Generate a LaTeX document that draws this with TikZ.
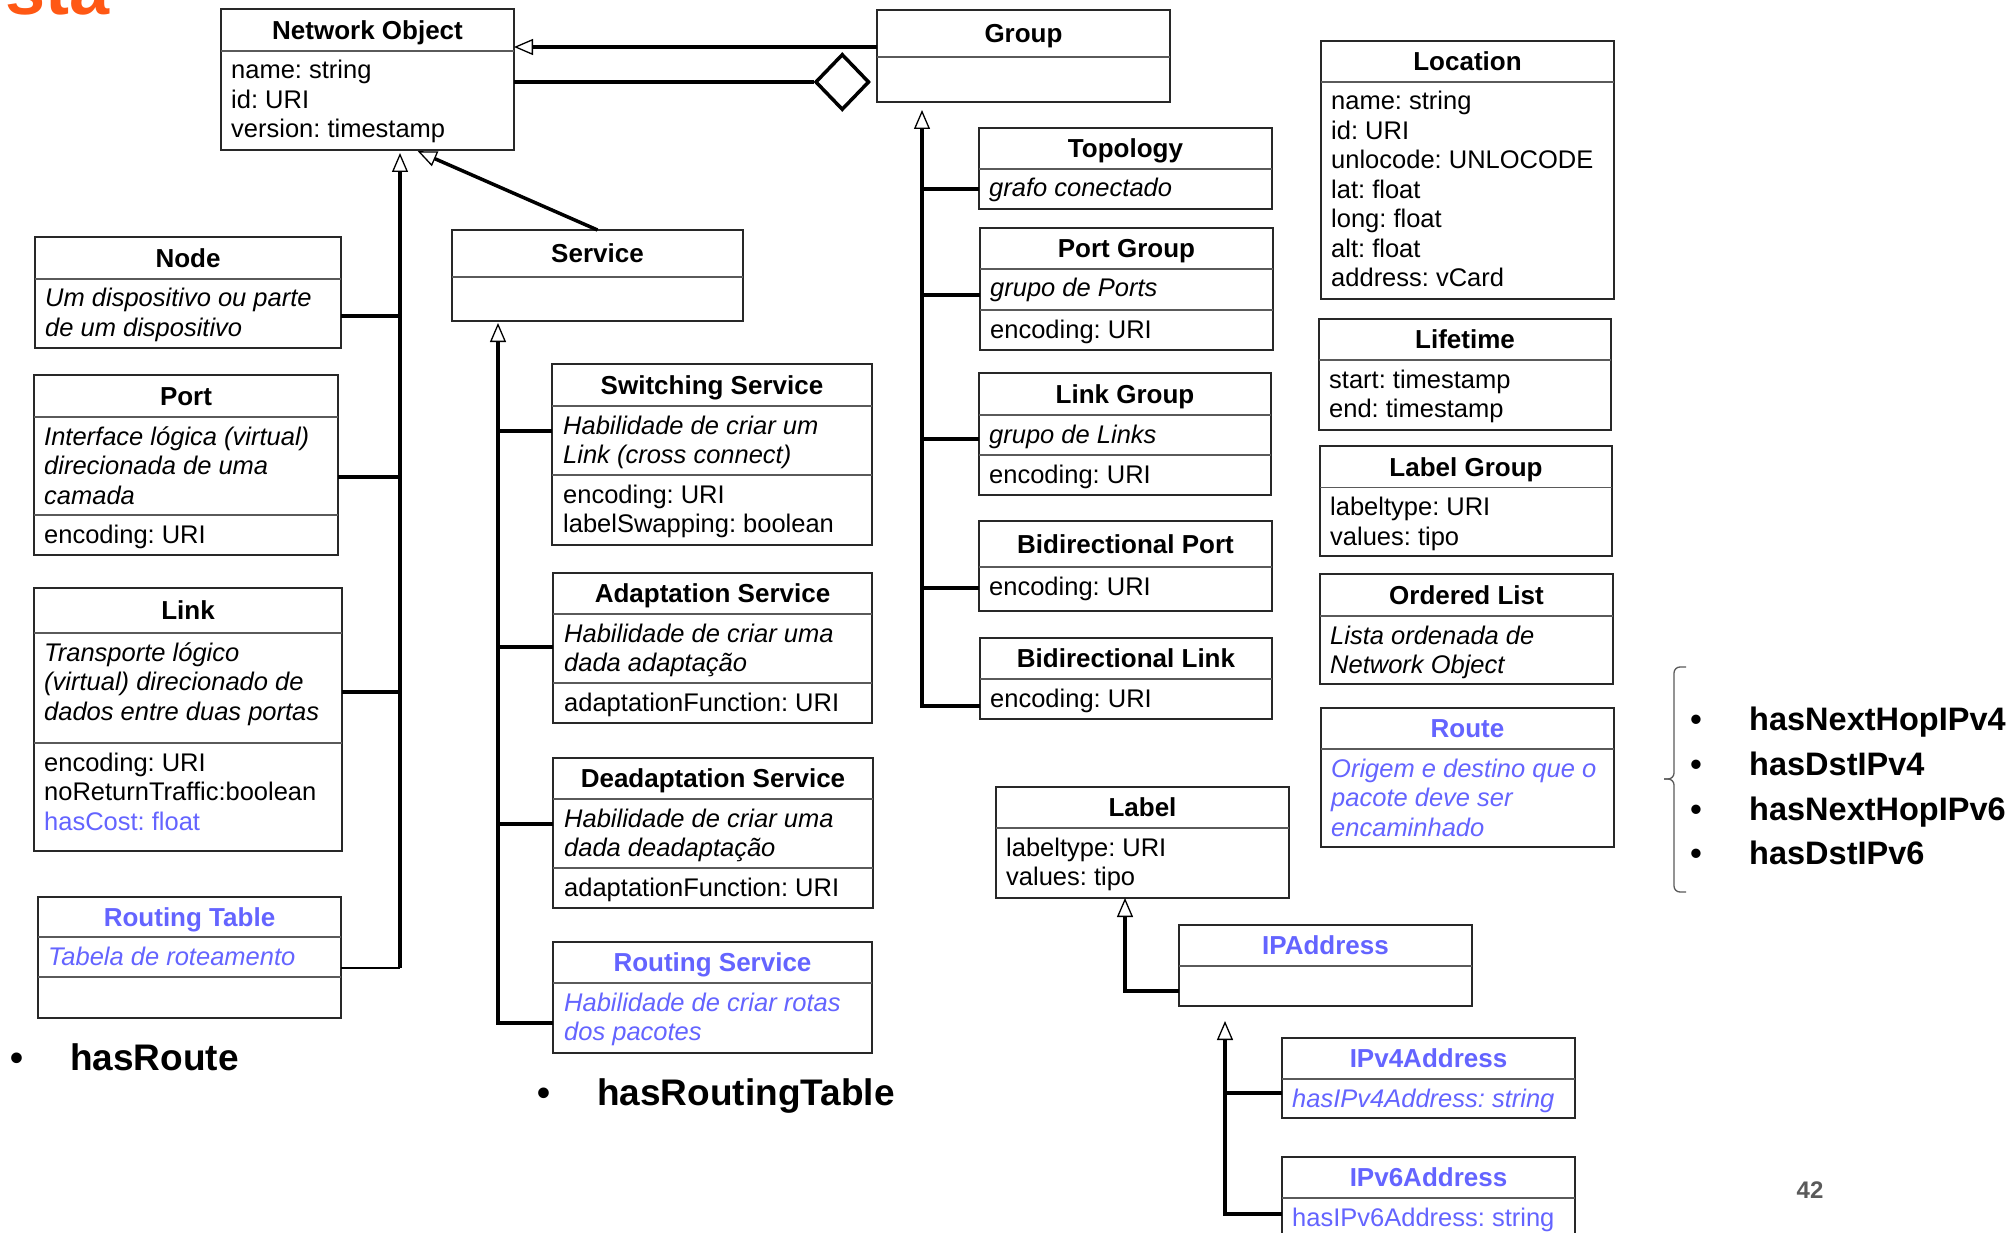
\documentclass[tikz,border=0pt]{standalone}
\usepackage{fontspec}
\setmainfont{Liberation Sans}
\usetikzlibrary{arrows.meta,shapes.geometric}
\frenchspacing

\definecolor{ublue}{RGB}{100,100,255}
\definecolor{uorange}{RGB}{255,88,20}
\definecolor{bordergray}{RGB}{40,40,40}
\definecolor{sepgray}{RGB}{90,90,90}
\definecolor{pagegray}{RGB}{90,90,90}

\tikzset{
  umlbox/.style={draw=bordergray, line width=1.6pt, fill=white, inner sep=0pt, outer sep=0pt},
  sepline/.style={draw=sepgray, line width=1.6pt},
  ttl/.style={font=\fontsize{26}{30}\selectfont\bfseries, anchor=base, inner sep=0pt},
  txt/.style={font=\fontsize{25.5}{29.5}\selectfont, inner sep=0pt},
  itx/.style={font=\fontsize{25.5}{29.5}\selectfont\itshape},
  bluetxt/.style={text=ublue},
  conn/.style={draw=black, line width=3.5pt},
  thinconn/.style={draw=black, line width=1.6pt},
  gen/.style={-{Triangle[open, length=19pt, width=16pt, line width=1.3pt]}},
  aggd/.style={diamond, draw=black, fill=white, line width=3.5pt,
    minimum width=54pt, minimum height=56pt, inner sep=0pt},
  bigtxt/.style={font=\fontsize{37}{44}\selectfont\bfseries, inner sep=0pt},
  listtxt/.style={font=\fontsize{32.5}{40}\selectfont\bfseries, inner sep=0pt},
}

% class box: name, x1, y1, x2, y2, title separator y, title, title style
\newcommand\umlclass[8]{%
  \node[umlbox, minimum width={#4-#2}, minimum height={#5-#3}] (#1)
    at ({(#2+#4)/2},{(#3+#5)/2}) {};
  \draw[sepline] (#1.west |- 0,#6) -- (#1.east |- 0,#6);
  \node[ttl,#8] (#1-title) at ({(#2+#4)/2},{(#3+#6)/2+9.3}) {#7};
}
% extra compartment separator: box name, y
\newcommand\umlsep[2]{\draw[sepline] (#1.west |- 0,#2) -- (#1.east |- 0,#2);}
% compartment text: prefix, left x, separator y above, style, lines
\newcommand\umltext[5]{%
  \foreach \mytxt [count=\myi] in {#5} {
    \node[txt,#4,anchor=base west] (#1-\myi) at (#2,{#3+28+(\myi-1)*29.5}) {\mytxt};
  }
}

\begin{document}
\begin{tikzpicture}[x=1pt,y=-1pt]
\useasboundingbox (0,0) rectangle (2016,1233);
\fill[white] (0,0) rectangle (2016,1233);
\clip (0,0) rectangle (2016,1233);

% slide title remnant
\node[font=\fontsize{72}{80}\selectfont\bfseries, text=uorange, anchor=base east, inner sep=0pt]
  (slidetitle) at (110,15) {sta};

% ---------- top classes ----------
\umlclass{no}{221}{9}{514}{150}{51}{Network Object}{}
\umltext{no-a}{231}{51}{}{name: string, id: URI, version: timestamp}

\umlclass{grp}{877}{10}{1170}{102}{57}{Group}{}

% ---------- left column ----------
\umlclass{nd}{35}{237}{341}{348}{279}{Node}{}
\umltext{nd-a}{45}{279}{itx}{Um dispositivo ou parte, de um dispositivo}

\umlclass{port}{34}{375}{338}{555}{417}{Port}{}
\umlsep{port}{515}
\umltext{port-a}{44}{417}{itx}{Interface lógica (virtual), direcionada de uma, camada}
\umltext{port-b}{44}{515}{}{encoding: URI}

\umlclass{link}{34}{588}{342}{851}{633}{Link}{}
\umlsep{link}{743}
\umltext{link-a}{44}{633}{itx}{Transporte lógico, {(virtual) direcionado de}, dados entre duas portas}
\umltext{link-b}{44}{743}{}{encoding: URI, noReturnTraffic:boolean}
\node[txt,bluetxt,anchor=base west] (link-c) at (44,830) {hasCost: float};

\umlclass{rt}{38}{897}{341}{1018}{937}{Routing Table}{bluetxt}
\umlsep{rt}{977}
\umltext{rt-a}{48}{937}{itx,bluetxt}{Tabela de roteamento}

% ---------- services ----------
\umlclass{svc}{452}{230}{743}{321}{277}{Service}{}

\umlclass{sw}{552}{364}{872}{545}{406}{Switching Service}{}
\umlsep{sw}{475}
\umltext{sw-a}{563}{406}{itx}{Habilidade de criar um, {Link (cross connect)}}
\umltext{sw-b}{563}{475}{}{encoding: URI, labelSwapping: boolean}

\umlclass{adp}{553}{573}{872}{723}{614}{Adaptation Service}{}
\umlsep{adp}{683}
\umltext{adp-a}{564}{614}{itx}{Habilidade de criar uma, dada adaptação}
\umltext{adp-b}{564}{683}{}{adaptationFunction: URI}

\umlclass{dadp}{553}{758}{873}{908}{799}{Deadaptation Service}{}
\umlsep{dadp}{868}
\umltext{dadp-a}{564}{799}{itx}{Habilidade de criar uma, dada deadaptação}
\umltext{dadp-b}{564}{868}{}{adaptationFunction: URI}

\umlclass{rsv}{553}{942}{872}{1053}{983}{Routing Service}{bluetxt}
\umltext{rsv-a}{564}{983}{itx,bluetxt}{Habilidade de criar rotas, dos pacotes}

% ---------- groups ----------
\umlclass{topo}{979}{128}{1272}{209}{169}{Topology}{}
\umltext{topo-a}{989}{169}{itx}{grafo conectado}

\umlclass{pgrp}{980}{228}{1273}{350}{269}{Port Group}{}
\umlsep{pgrp}{310}
\umltext{pgrp-a}{990}{269}{itx}{grupo de Ports}
\umltext{pgrp-b}{990}{310}{}{encoding: URI}

\umlclass{lnkg}{979}{373}{1271}{495}{415}{Link Group}{}
\umlsep{lnkg}{455}
\umltext{lnkg-a}{989}{415}{itx}{grupo de Links}
\umltext{lnkg-b}{989}{455}{}{encoding: URI}

\umlclass{bport}{979}{521}{1272}{611}{567}{Bidirectional Port}{}
\umltext{bport-a}{989}{567}{}{encoding: URI}

\umlclass{blink}{980}{638}{1272}{719}{679}{Bidirectional Link}{}
\umltext{blink-a}{990}{679}{}{encoding: URI}

% ---------- labels and addresses ----------
\umlclass{lbl}{996}{787}{1289}{898}{828}{Label}{}
\umltext{lbl-a}{1006}{828}{}{labeltype: URI, values: tipo}

\umlclass{ipa}{1179}{925}{1472}{1006}{966}{IPAddress}{bluetxt}

\umlclass{ipv4}{1282}{1038}{1575}{1118}{1079}{IPv4Address}{bluetxt}
\umltext{ipv4-a}{1292}{1079}{itx,bluetxt}{hasIPv4Address: string}

\umlclass{ipv6}{1282}{1157}{1575}{1262}{1198}{IPv6Address}{bluetxt}
\umltext{ipv6-a}{1292}{1198}{bluetxt}{hasIPv6Address: string}

% ---------- right column ----------
\umlclass{loc}{1321}{41}{1614}{299}{82}{Location}{}
\umltext{loc-a}{1331}{82}{}{name: string, id: URI, unlocode: UNLOCODE, lat: float, long: float, alt: float, address: vCard}

\umlclass{life}{1319}{319}{1611}{430}{360}{Lifetime}{}
\umltext{life-a}{1329}{360}{}{start: timestamp, end: timestamp}

\umlclass{lgrp}{1320}{446}{1612}{556}{487.5}{Label Group}{}
\umltext{lgrp-a}{1330}{487.5}{}{labeltype: URI, values: tipo}

\umlclass{olist}{1320}{574}{1613}{684}{616}{Ordered List}{}
\umltext{olist-a}{1330}{616}{itx}{Lista ordenada de, Network Object}

\umlclass{route}{1321}{708}{1614}{847}{749}{Route}{bluetxt}
\umltext{route-a}{1331}{749}{itx,bluetxt}{Origem e destino que o, pacote deve ser, encaminhado}

% ---------- relations ----------
% Group specialises and aggregates Network Object
\draw[conn,gen] (grp.west |- 0,47) -- (no.east |- 0,47);
\node[aggd, anchor=east] (agg) at ([xshift=-6pt]grp.west |- 0,82) {};
\draw[conn] (no.east |- agg.west) -- (agg.west);

% Network Object hierarchy
\coordinate (noBend) at (400,968);
\draw[thinconn] (rt.east |- noBend) -- (noBend);
\draw[conn,gen,shorten >=3pt] (noBend) -- (noBend |- no.south);
\draw[conn] (nd.east |- 0,316) -- (noBend |- 0,316);
\draw[conn] (port.east |- 0,477) -- (noBend |- 0,477);
\draw[conn] (link.east |- 0,692) -- (noBend |- 0,692);
\draw[conn,gen,shorten >=3pt] (svc.north) -- (no.south -| 415,0);

% Service hierarchy
\coordinate (svcBend) at (498,1023);
\draw[conn,gen,shorten >=2pt] (rsv.west |- svcBend) -- (svcBend) -- (svcBend |- svc.south);
\draw[conn] (sw.west |- 0,431) -- (svcBend |- 0,431);
\draw[conn] (adp.west |- 0,647) -- (svcBend |- 0,647);
\draw[conn] (dadp.west |- 0,824) -- (svcBend |- 0,824);

% Group hierarchy
\coordinate (grpBend) at (922,706);
\draw[conn,gen,shorten >=8pt] (blink.west |- grpBend) -- (grpBend) -- (grpBend |- grp.south);
\draw[conn] (topo.west |- 0,189) -- (grpBend |- 0,189);
\draw[conn] (pgrp.west |- 0,295) -- (grpBend |- 0,295);
\draw[conn] (lnkg.west |- 0,439) -- (grpBend |- 0,439);
\draw[conn] (bport.west |- 0,588) -- (grpBend |- 0,588);

% Label / address hierarchy
\coordinate (lblBend) at (1125,991);
\draw[conn,gen] (ipa.west |- lblBend) -- (lblBend) -- (lblBend |- lbl.south);
\coordinate (ipBend) at (1225,1214);
\draw[conn,gen,shorten >=15pt] (ipv6.west |- ipBend) -- (ipBend) -- (ipBend |- ipa.south);
\draw[conn] (ipv4.west |- 0,1093) -- (ipBend |- 0,1093);

% ---------- property lists ----------
\node[bigtxt,anchor=base] (hr-dot) at (17,1070) {•};
\node[bigtxt,anchor=base west] (hr) at (70,1070) {hasRoute};
\node[bigtxt,anchor=base] (hrt-dot) at (544,1105) {•};
\node[bigtxt,anchor=base west] (hrt) at (597,1105) {hasRoutingTable};

\draw[line width=1.3pt, draw=sepgray, rounded corners=6pt]
  (1686,667) -- (1674,667) -- (1674,779) -- (1664,779);
\draw[line width=1.3pt, draw=sepgray, rounded corners=6pt]
  (1664,779) -- (1674,779) -- (1674,892) -- (1686,892);

\foreach \prop/\py [count=\pi] in {hasNextHopIPv4/730, hasDstIPv4/775, hasNextHopIPv6/820, hasDstIPv6/864} {
  \node[listtxt,anchor=base] (nh-dot-\pi) at (1696,\py) {•};
  \node[listtxt,anchor=base west] (nh-\pi) at (1749,\py) {\prop};
}

% page number
\node[font=\fontsize{24}{28}\selectfont\bfseries, text=pagegray, anchor=base, inner sep=0pt]
  (pagenum) at (1810,1198) {42};
\end{tikzpicture}
\end{document}
